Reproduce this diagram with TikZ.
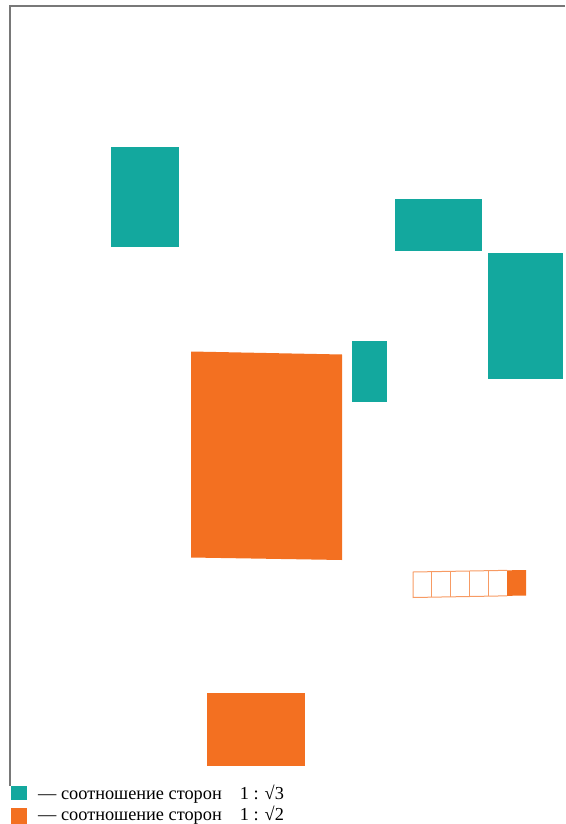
\documentclass[tikz,border=0pt]{standalone}
\usepackage{fontspec}
\setmainfont{Liberation Serif}
\begin{document}
\begin{tikzpicture}[x=1pt,y=-1pt,line join=miter]
    \definecolor{teal}{RGB}{19,168,158}
    \definecolor{tangerine}{RGB}{243,112,33}
    \definecolor{framegrey}{RGB}{120,120,120}
    \tikzset{
        framestyle/.style={draw=framegrey,line width=1.3pt},
        card/.style={fill=teal},
        sheet/.style={fill=tangerine},
        cell/.style={draw=tangerine!70,line width=1pt},
        legendtext/.style={anchor=base west,inner sep=0pt,font=\fontsize{18.3}{18.3}\selectfont}
    }
    \useasboundingbox (0,0) rectangle (565,824);
    % frame
    \draw[framestyle] (565,6) -- (10,6) -- (10,786);
    % teal 1:sqrt3
    \fill[card] (111,147) rectangle (179,247);
    \fill[card] (395,199) rectangle (482,251);
    \fill[card] (488,253) rectangle (563,379);
    \fill[card] (352,341) rectangle (387,402);
    % orange 1:sqrt2
    \fill[sheet] (191,351.5) -- (342,354.5) -- (342,560) -- (191,557.5) -- cycle;
    \fill[sheet] (207,693) rectangle (305,766);
    % strip
    \foreach \i in {0,...,6}{
        \path (413,572)--(526,570) coordinate[pos=\i/6](t\i);
        \path (413,597.5)--(526,595.5) coordinate[pos=\i/6](b\i);
    }
    \fill[sheet] (t5) -- (t6) -- (b6) -- (b5) -- cycle;
    \draw[cell] (t5) -- (t0) -- (b0) -- (b5);
    \foreach \i in {1,...,4} \draw[cell] (t\i) -- (b\i);
    % legend
    \fill[card] (11,786) rectangle (27,800);
    \fill[sheet] (11,808) rectangle (27,824);
    \node[legendtext] (lgA) at (38,799.5) {— соотношение сторон\hspace{18pt}1 : √3};
    \node[legendtext] (lgB) at (38,820.5) {— соотношение сторон\hspace{18pt}1 : √2};
\end{tikzpicture}
\end{document}
